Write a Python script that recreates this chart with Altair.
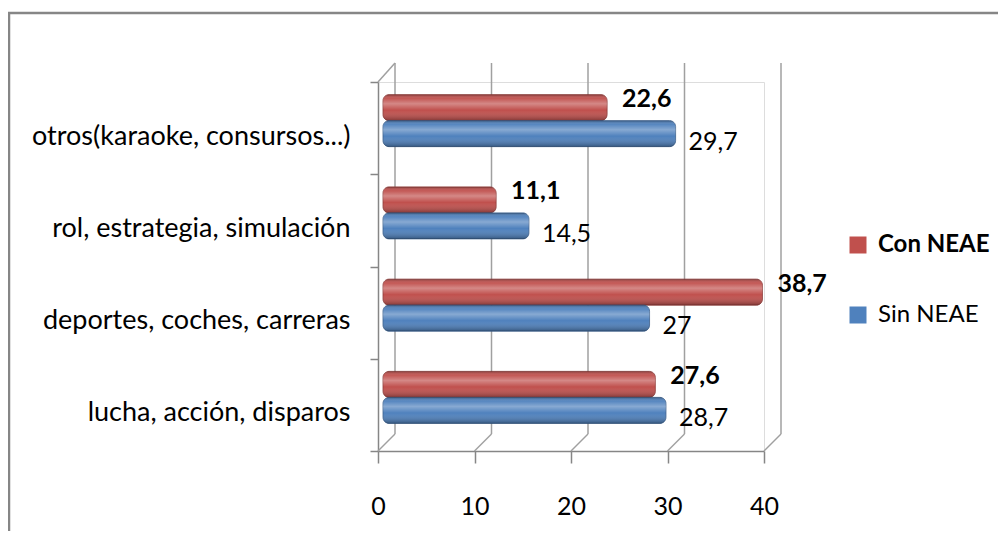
import altair as alt
import pandas as pd

categories = ["otros(karaoke, consursos...)", "rol, estrategia,  simulación",
              "deportes, coches, carreras", "lucha, acción,  disparos"]
series = ["Con NEAE", "Sin NEAE"]
con_neae = [22.6, 11.1, 38.7, 27.6]
sin_neae = [29.7, 14.5, 27.0, 28.7]
x_ticks = [0, 10, 20, 30, 40]
colors = ["#C0504D", "#4F81BD"]

rows = []
for c, a, b in zip(categories, con_neae, sin_neae):
    rows.append({"category": c, "serie": series[0], "value": a, "label": f"{a:g}".replace(".", ",")})
    rows.append({"category": c, "serie": series[1], "value": b, "label": f"{b:g}".replace(".", ",")})
df = pd.DataFrame(rows)
grid_df = pd.DataFrame({"v": x_ticks})

W, H = 386, 369
FONT = "Lato, Roboto, sans-serif"
GRID = "#A0A0A0"

yenc = alt.Y("category:N", sort=categories,
             scale=alt.Scale(paddingInner=0, paddingOuter=0),
             axis=alt.Axis(title=None, domainColor="#868686", domainWidth=1.5,
                           tickColor="#868686", tickWidth=1.5, tickSize=8,
                           tickBand="extent", labelFont=FONT, labelFontSize=27,
                           labelColor="#000000", labelPadding=20, labelOffset=8,
                           labelLimit=400))
xscale = alt.Scale(domain=[0, 40], nice=False)
xaxis = alt.Axis(title=None, values=x_ticks, grid=False, domainColor="#868686",
                 domainWidth=1.5, tickColor="#868686", tickWidth=1.5, tickSize=12,
                 labelFont=FONT, labelFontSize=25, labelColor="#000000",
                 labelPadding=31, labelFlush=False)

border = alt.Chart(grid_df).transform_filter("datum.v == 0").mark_rect(
    fillOpacity=0, stroke="#868686", strokeWidth=2.5).encode(
    x=alt.value(-369), x2=alt.value(700), y=alt.value(-69), y2=alt.value(600))

back = alt.Chart(grid_df).mark_rule(xOffset=17, color=GRID, strokeWidth=1.5).encode(
    x=alt.X("v:Q", scale=xscale, axis=xaxis), y=alt.value(-19), y2=alt.value(H - 17))
floor = alt.Chart(grid_df).mark_rule(x2Offset=17, color=GRID, strokeWidth=1.5).encode(
    x="v:Q", x2="v:Q", y=alt.value(H), y2=alt.value(H - 17))
top = alt.Chart(grid_df).transform_filter("datum.v == 0").mark_rule(
    x2Offset=17, color=GRID, strokeWidth=1.5).encode(
    x="v:Q", x2="v:Q", y=alt.value(0), y2=alt.value(-19))

shade = alt.Gradient(
    gradient="linear", x1=0, x2=0, y1=0, y2=1,
    stops=[alt.GradientStop(color="rgba(0,0,0,0.30)", offset=0),
           alt.GradientStop(color="rgba(255,255,255,0.05)", offset=0.15),
           alt.GradientStop(color="rgba(255,255,255,0.32)", offset=0.35),
           alt.GradientStop(color="rgba(255,255,255,0.0)", offset=0.6),
           alt.GradientStop(color="rgba(0,0,0,0.32)", offset=1)])

layers = [border, back, floor, top]
offs = {"Con NEAE": (-20.5, "#8C3836"), "Sin NEAE": (5.5, "#385D8A")}
for s in series:
    yo, strk = offs[s]
    base = alt.Chart(df).transform_filter(alt.datum.serie == s)
    bar = base.mark_bar(height=26, yOffset=yo, xOffset=11, x2Offset=5,
                        cornerRadiusEnd=6, stroke=strk, strokeWidth=0.8).encode(
        x=alt.X("value:Q", scale=xscale, stack=None),
        x2=alt.datum(0),
        y=yenc,
        color=alt.Color("serie:N", scale=alt.Scale(domain=series, range=colors),
                        legend=alt.Legend(
                            title=None, orient="none", legendX=468, legendY=151,
                            padding=0,
                            symbolType="square", symbolSize=289, symbolStrokeWidth=0,
                            labelFont=FONT, labelFontSize=24, labelColor="#000000",
                            labelFontWeight=alt.expr("datum.label == 'Con NEAE' ? 'bold' : 'normal'"),
                            rowPadding=46, labelOffset=8)))
    gloss = base.mark_bar(height=26, yOffset=yo, xOffset=11, x2Offset=5,
                          cornerRadiusEnd=6, color=shade).encode(
        x=alt.X("value:Q", scale=xscale, stack=None), x2=alt.datum(0), y=yenc)
    layers += [bar, gloss]

red_txt = alt.Chart(df).transform_filter(alt.datum.serie == "Con NEAE").mark_text(
    align="left", baseline="middle", xOffset=26, yOffset=-29, font=FONT,
    fontSize=25, fontWeight="bold", color="#000000").encode(
    x=alt.X("value:Q", scale=xscale), y=yenc, text="label:N")
blue_txt = alt.Chart(df).transform_filter(alt.datum.serie == "Sin NEAE").mark_text(
    align="left", baseline="middle", xOffset=24, yOffset=13.5, font=FONT,
    fontSize=25, fontWeight="normal", color="#000000").encode(
    x=alt.X("value:Q", scale=xscale), y=yenc, text="label:N")
layers += [red_txt, blue_txt]

chart = alt.layer(*layers).properties(
    width=W, height=H,
    autosize=alt.AutoSizeParams(type="none"),
    padding={"left": 370, "top": 74, "right": 234, "bottom": 80},
).configure_view(stroke=None).configure(background="white")

chart.save("out.html", embed_options={"renderer": "svg", "actions": False})
